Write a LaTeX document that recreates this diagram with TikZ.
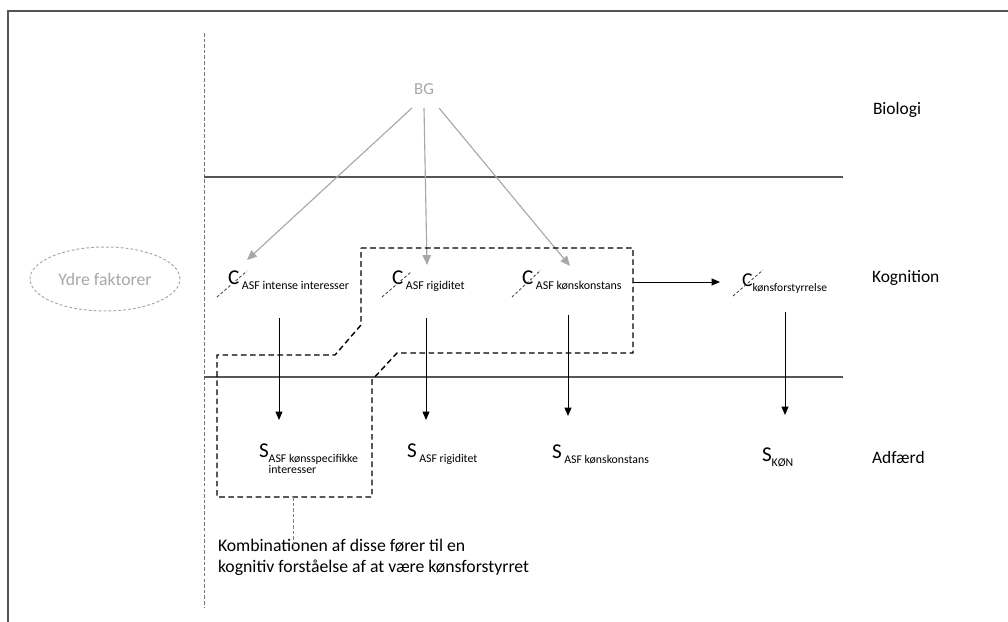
\documentclass[tikz,border=0pt]{standalone}
\usepackage{fontspec}
\setmainfont{Carlito}
\usetikzlibrary{arrows.meta,shapes.geometric}
\definecolor{lysgraa}{HTML}{A8A8A8}
\definecolor{streggraa}{HTML}{555555}

\begin{document}
\begin{tikzpicture}[x=0.025cm, y=-0.025cm,
    every node/.style={inner sep=0pt, outer sep=0pt},
    niveau/.style={anchor=base west, font=\fontsize{12.4}{14}\selectfont},
    cnode/.style={anchor=base west},
    skraa/.style={draw=darkgray, dash pattern=on 2pt off 1.5pt, line width=0.6pt},
    pil/.style={-{Triangle[length=6pt,width=5pt]}, line width=0.7pt},
    graapil/.style={-{Triangle[length=7pt,width=6pt]}, draw=lysgraa, fill=lysgraa, line width=0.8pt},
    gruppe/.style={draw=black, dash pattern=on 4pt off 2.5pt, line width=1pt}]
    \useasboundingbox (0,0) rectangle (1008,622);

    % ramme
    \draw[line width=1.2pt, draw=streggraa] (8,622) -- (8,11) -- (1008,11);

    % skillelinjer
    \draw[draw=lysgraa!70!black, dash pattern=on 2.5pt off 1.5pt, line width=0.6pt] (204,33) -- (204,608);
    \draw[line width=0.8pt, draw=streggraa] (204,177) -- (843,177);
    \draw[line width=0.8pt, draw=streggraa] (204,377) -- (843,377);

    % niveauer
    \node[niveau] (bio) at (873,115) {Biologi};
    \node[niveau] (kog) at (872,283) {Kognition};
    \node[niveau] (adf) at (872,464) {Adfærd};

    % ydre faktorer
    \node[ellipse, draw=lysgraa, dash pattern=on 2pt off 1.5pt, line width=0.7pt,
          minimum width=150*0.025cm, minimum height=64*0.025cm,
          text=lysgraa, font=\fontsize{12.6}{14}\selectfont] (ydre) at (105,279) {Ydre faktorer};

    % BG
    \node[text=lysgraa, font=\fontsize{12}{14}\selectfont] (BG) at (424,89) {BG};

    % kognition
    \node[cnode] (cA) at (228,285) {{\fontsize{15}{15}\selectfont C}\raisebox{-3.5pt}{\fontsize{8.5}{9}\selectfont\ ASF intense interesser}};
    \node[cnode] (cB) at (392,285) {{\fontsize{15}{15}\selectfont C}\raisebox{-3.5pt}{\fontsize{8.5}{9}\selectfont\ ASF rigiditet}};
    \node[cnode] (cC) at (522,285) {{\fontsize{15}{15}\selectfont C}\raisebox{-3.5pt}{\fontsize{8.5}{9}\selectfont\ ASF kønskonstans}};
    \node[cnode] (cD) at (742,287) {{\fontsize{14}{14}\selectfont C}\raisebox{-3.5pt}{\fontsize{8.2}{9}\selectfont kønsforstyrrelse}};

    \draw[skraa] ([shift={(-11,12)}]cA.base west) -- ([shift={(19,-14)}]cA.base west);
    \draw[skraa] ([shift={(-10,12)}]cB.base west) -- ([shift={(19,-13)}]cB.base west);
    \draw[skraa] ([shift={(-10,12)}]cC.base west) -- ([shift={(19,-15)}]cC.base west);
    \draw[skraa] ([shift={(-9,9)}]cD.base west) -- ([shift={(21,-17)}]cD.base west);

    % adfærd
    \node[cnode] (sA) at (259,458) {{\fontsize{15}{15}\selectfont S}\raisebox{-3.5pt}{\fontsize{8.4}{9}\selectfont\begin{tabular}[t]{@{}l@{}}ASF kønsspecifikke\\[-1.5pt]interesser\end{tabular}}};
    \node[cnode] (sB) at (407,458) {{\fontsize{15}{15}\selectfont S}\raisebox{-3.5pt}{\fontsize{8.4}{9}\selectfont\ ASF rigiditet}};
    \node[cnode] (sC) at (552,459) {{\fontsize{15}{15}\selectfont S}\raisebox{-3.5pt}{\fontsize{8.4}{9}\selectfont\ ASF kønskonstans}};
    \node[cnode] (sD) at (762,462) {{\fontsize{15}{15}\selectfont S}\raisebox{-3.5pt}{\fontsize{8.4}{9}\selectfont KØN}};

    % pile fra BG
    \coordinate (bg1) at (412,108);
    \coordinate (bg2) at (424,108);
    \coordinate (bg3) at (439,108);
    \coordinate (mA) at (247,260);
    \coordinate (mB) at (427,265);
    \coordinate (mC) at (570,266);
    \draw[graapil] (bg1) -- (mA);
    \draw[graapil] (bg2) -- (mB);
    \draw[graapil] (bg3) -- (mC);

    % pile kognition -> adfærd
    \coordinate (a1) at (279,318);  \coordinate (b1) at (279,420);
    \coordinate (a2) at (426,318);  \coordinate (b2) at (426,420);
    \coordinate (a3) at (568,315);  \coordinate (b3) at (568,416);
    \coordinate (a4) at (785,312);  \coordinate (b4) at (785,415);
    \draw[pil] (a1) -- (b1);
    \draw[pil] (a2) -- (b2);
    \draw[pil] (a3) -- (b3);
    \draw[pil] (a4) -- (b4);

    % gruppen
    \draw[gruppe] (361,248) -- (633,248) -- (633,353) -- (397,353) -- (372,380)
        -- (372,497) -- (217,497) -- (217,355) -- (335,355) -- (361,325) -- cycle;
    \coordinate (g1) at (633,282);
    \coordinate (g2) at (720,282);
    \draw[pil] (g1) -- (g2);

    % forklaring
    \coordinate (g3) at (293,497);
    \node[anchor=base west, align=left, font=\fontsize{12.6}{15.5}\selectfont] (tekst) at (218,573)
        {Kombinationen af disse fører til en\\kognitiv forståelse af at være kønsforstyrret};
    \coordinate (g4) at (293,550);
    \draw[draw=gray, dash pattern=on 2.5pt off 1.5pt, line width=0.6pt] (g3) -- (g4);
\end{tikzpicture}
\end{document}
